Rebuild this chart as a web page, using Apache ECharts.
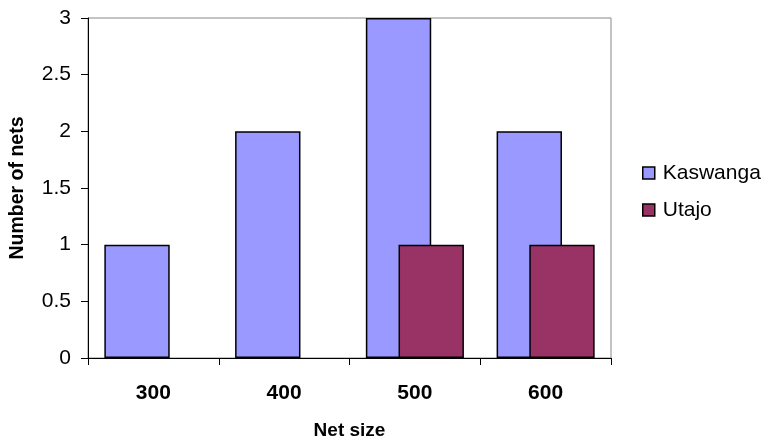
<!DOCTYPE html>
<html>
<head>
<meta charset="utf-8">
<script src="https://cdn.jsdelivr.net/npm/echarts@6/dist/echarts.min.js"></script>
<style>
  html, body { margin: 0; padding: 0; background: #fff; }
  #chart { width: 765px; height: 441px; }
</style>
</head>
<body>
<div id="chart"></div>
<script>
// Net sizes on the category axis
const netSizes = ['300', '400', '500', '600'];
// Number of nets per village
const kaswanga = [1, 2, 3, 2];
const utajo = [0, 0, 1, 1];
const seriesNames = ['Kaswanga', 'Utajo'];

const font = '"Liberation Sans", Arial, sans-serif';
const chart = echarts.init(document.getElementById('chart'));

chart.setOption({
  animation: false,
  backgroundColor: '#fff',
  grid: {
    left: 88, right: 154, top: 18, bottom: 83,
    outerBoundsMode: 'none',
    containLabel: false,
    show: true, borderColor: '#888', borderWidth: 1
  },
  legend: {
    orient: 'vertical',
    left: 642, top: 162,
    padding: 0,
    itemWidth: 12, itemHeight: 12,
    itemGap: 15,
    icon: 'rect',
    data: seriesNames,
    textStyle: { fontFamily: font, fontSize: 21, color: '#000', lineHeight: 22, padding: [0, 0, 0, 3] },
    itemStyle: { borderColor: '#000', borderWidth: 1.5 }
  },
  xAxis: {
    type: 'category',
    data: netSizes,
    name: 'Net size',
    nameLocation: 'middle',
    nameGap: 63,
    nameTextStyle: { fontFamily: font, fontSize: 19, fontWeight: 'bold', color: '#000' },
    axisLine: { lineStyle: { color: '#000', width: 1 } },
    axisTick: { show: true, length: 7, lineStyle: { color: '#000' } },
    axisLabel: { margin: 25, fontFamily: font, fontSize: 21, fontWeight: 'bold', color: '#000' }
  },
  yAxis: {
    type: 'value',
    min: 0, max: 3, interval: 0.5,
    name: 'Number of nets',
    nameLocation: 'middle',
    nameGap: 60,
    nameTextStyle: { fontFamily: font, fontSize: 19.5, fontWeight: 'bold', color: '#000' },
    axisLine: { show: true, lineStyle: { color: '#000', width: 1 } },
    axisTick: { show: true, length: 7, lineStyle: { color: '#000' } },
    splitLine: { show: false },
    axisLabel: { margin: 17, fontFamily: font, fontSize: 21, color: '#000' }
  },
  series: [
    {
      name: seriesNames[0],
      type: 'bar',
      data: kaswanga,
      barGap: '-50%',
      barCategoryGap: '25%',
      itemStyle: { color: '#9999FF', borderColor: '#000', borderWidth: 1.5 }
    },
    {
      name: seriesNames[1],
      type: 'bar',
      data: utajo.map(v => (v === 0 ? null : v)),
      barGap: '-50%',
      barCategoryGap: '25%',
      itemStyle: { color: '#993366', borderColor: '#000', borderWidth: 1.5 }
    }
  ]
});
</script>
</body>
</html>
